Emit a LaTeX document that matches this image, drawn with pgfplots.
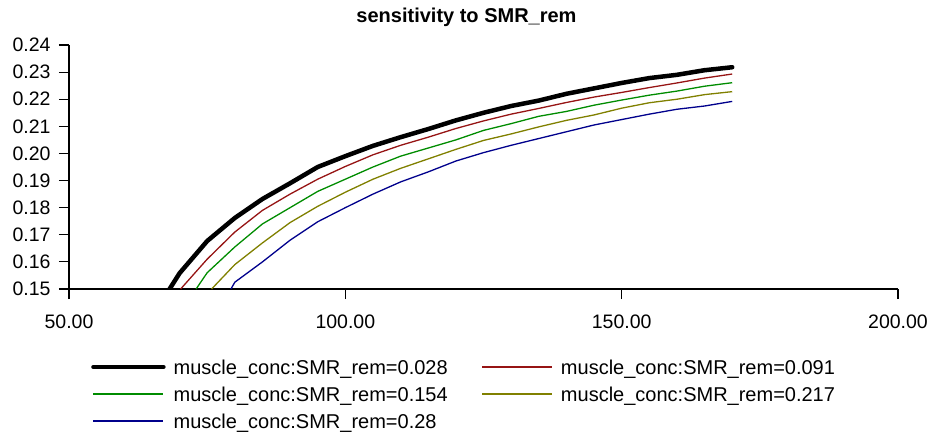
\documentclass[border=0pt]{standalone}
\usepackage{fontspec}
\setmainfont{Liberation Sans}
\usepackage{pgfplots}
\pgfplotsset{compat=1.18}
\definecolor{cred}{RGB}{150,20,20}
\definecolor{cgreen}{RGB}{0,140,0}
\definecolor{colive}{RGB}{128,128,0}
\definecolor{cblue}{RGB}{0,0,140}
\begin{document}
\begin{tikzpicture}[x=1pt,y=1pt]
\path[use as bounding box] (-69pt,-143pt) rectangle (858pt,289pt);
\begin{axis}[
  at={(0pt,0pt)}, anchor=origin,
  scale only axis, width=829pt, height=244pt,
  xmin=50, xmax=200, ymin=0.15, ymax=0.24,
  axis x line*=bottom, axis y line*=left,
  axis line style={line width=1.2pt, -},
  tick align=outside, major tick length=10pt,
  tick style={line width=1.2pt, black},
  xtick={50,100,150,200},
  ytick={0.15,0.16,0.17,0.18,0.19,0.20,0.21,0.22,0.23,0.24},
  /pgf/number format/assume math mode=true,
  xticklabel style={/pgf/number format/.cd, fixed, fixed zerofill, precision=2, /tikz/.cd, yshift=-12pt},
  yticklabel style={/pgf/number format/.cd, fixed, fixed zerofill, precision=2, /tikz/.cd, xshift=-5pt},
  ticklabel style={font=\fontsize{19.5}{22}\selectfont},
  clip=true,
  legend style={draw=none, fill=none, at={(0,0)}, anchor=north west,
    xshift=22pt, yshift=-72pt, inner sep=0pt,
    font=\fontsize{20}{22}\selectfont,
    row sep=10pt,
    nodes={inner sep=0pt, text height=13pt, text depth=4pt},
    /tikz/every odd column/.append style={column sep=8pt}},
  legend columns=2, legend cell align=left,
  legend image code/.code={\draw[#1] (0pt,0.27em) -- (70pt,0.27em);},
]
\addplot[black, line width=4.5pt, line cap=round] coordinates {
(68.2,0.150) (70,0.1558) (75,0.1677) (80,0.1762) (85,0.1832) (90,0.1890) (95,0.1950) (100,0.1990) (105,0.2028) (110,0.2060) (115,0.2090) (120,0.2122) (125,0.2150) (130,0.2175) (135,0.2195) (140,0.2220) (145,0.2240) (150,0.2260) (155,0.2278) (160,0.2290) (165,0.2307) (170,0.2318)};
\addlegendentry{\makebox[308pt][l]{muscle\_conc:SMR\_rem=0.028}}
\addplot[cred, line width=1.3pt] coordinates {
(70.2,0.150) (75,0.1610) (80,0.1710) (85,0.1790) (90,0.1850) (95,0.1905) (100,0.1952) (105,0.1995) (110,0.2030) (115,0.2060) (120,0.2092) (125,0.2120) (130,0.2145) (135,0.2166) (140,0.2188) (145,0.2208) (150,0.2225) (155,0.2243) (160,0.2260) (165,0.2278) (170,0.2293)};
\addlegendentry{muscle\_conc:SMR\_rem=0.091}
\addplot[cgreen, line width=1.3pt] coordinates {
(73,0.150) (75,0.1560) (80,0.1655) (85,0.1740) (90,0.1800) (95,0.1860) (100,0.1905) (105,0.1950) (110,0.1990) (115,0.2020) (120,0.2050) (125,0.2085) (130,0.2110) (135,0.2137) (140,0.2155) (145,0.2178) (150,0.2197) (155,0.2215) (160,0.2230) (165,0.2248) (170,0.2261)};
\addlegendentry{\makebox[308pt][l]{muscle\_conc:SMR\_rem=0.154}}
\addplot[colive, line width=1.3pt] coordinates {
(75.8,0.150) (80,0.1590) (85,0.1670) (90,0.1745) (95,0.1805) (100,0.1857) (105,0.1905) (110,0.1945) (115,0.1980) (120,0.2015) (125,0.2048) (130,0.2072) (135,0.2098) (140,0.2122) (145,0.2142) (150,0.2167) (155,0.2187) (160,0.2200) (165,0.2217) (170,0.2228)};
\addlegendentry{muscle\_conc:SMR\_rem=0.217}
\addplot[cblue, line width=1.3pt] coordinates {
(79.3,0.150) (80,0.1525) (85,0.1600) (90,0.1680) (95,0.1748) (100,0.1800) (105,0.1850) (110,0.1895) (115,0.1932) (120,0.1972) (125,0.2003) (130,0.2030) (135,0.2055) (140,0.2080) (145,0.2105) (150,0.2125) (155,0.2145) (160,0.2163) (165,0.2175) (170,0.2192)};
\addlegendentry{\makebox[308pt][l]{muscle\_conc:SMR\_rem=0.28}}
\end{axis}
\node[font=\fontsize{20}{24}\selectfont\bfseries] at (397.5pt,272pt) {sensitivity to SMR\_rem};
\end{tikzpicture}
\end{document}
